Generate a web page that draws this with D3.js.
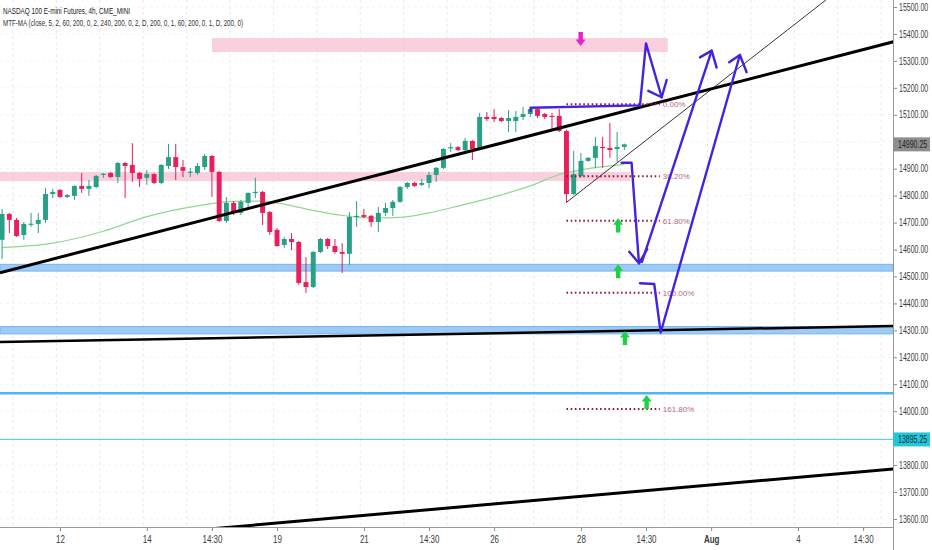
<!DOCTYPE html>
<html>
<head>
<meta charset="utf-8">
<script src="https://cdn.jsdelivr.net/npm/d3@7"></script>
<style>
body{margin:0;background:#fff;}
text{font-family:"Liberation Sans Narrow","Liberation Sans",Arial,sans-serif;}
</style>
</head>
<body>
<svg id="SVG_CONTAINER" width="932" height="550"></svg>
<script>
// 4h candles, one per bar index (6 bars a trading day)
const opens = [14636,14732,14710,14654,14694,14695,14710,14806,14821,14795,
  14799,14836,14825,14832,14879,14884,14869,14921,14914,14884,
  14866,14880,14847,14910,14943,14906,14888,14884,14906,14947,
  14888,14706,14773,14736,14773,14810,14814,14739,14673,14617,
  14639,14628,14479,14461,14591,14639,14613,14591,14584,14721,
  14728,14725,14702,14736,14754,14777,14832,14847,14840,14847,
  14877,14903,14977,14980,14969,15003,14973,15092,15092,15088,
  15077,15077,15092,15103,15121,15103,15096,15096,15040,14806,
  14873,14929,14940,14981,14977,14973,14981];
const highs = [14750,14736,14717,14702,14736,14736,14828,14825,14825,14806,
  14838,14884,14858,14877,14884,14888,14925,14925,14995,14888,
  14895,14884,14917,14992,14992,14932,14903,14921,14955,14951,
  14892,14795,14780,14784,14812,14866,14817,14743,14680,14647,
  14661,14632,14572,14595,14643,14643,14639,14624,14739,14780,
  14751,14728,14758,14773,14784,14836,14851,14851,14862,14888,
  14906,14977,14995,14984,15014,15006,15107,15110,15121,15092,
  15118,15114,15129,15125,15125,15107,15107,15121,15044,14966,
  14958,14943,15018,15018,15070,15036,14993];
const lows = [14565,14661,14647,14636,14684,14661,14699,14791,14791,14791,
  14784,14810,14799,14828,14866,14866,14847,14791,14851,14832,
  14840,14843,14843,14899,14858,14869,14869,14877,14895,14795,
  14702,14699,14728,14728,14754,14791,14691,14654,14610,14606,
  14598,14469,14439,14457,14587,14602,14584,14513,14543,14684,
  14717,14684,14665,14725,14725,14773,14825,14832,14836,14828,
  14851,14899,14962,14966,14962,14932,14969,15077,15073,15073,
  15036,15036,15081,15092,15088,15084,15044,15036,14773,14802,
  14866,14925,14903,14903,14940,14925,14969];
const closes = [14732,14710,14650,14695,14696,14710,14806,14814,14795,14802,
  14836,14825,14836,14873,14881,14869,14921,14910,14884,14862,
  14880,14847,14914,14943,14906,14892,14889,14910,14947,14888,
  14706,14773,14736,14777,14810,14814,14736,14665,14613,14639,
  14628,14476,14461,14591,14639,14613,14591,14584,14721,14725,
  14721,14702,14736,14754,14777,14832,14847,14836,14847,14877,
  14903,14973,14980,14969,15003,14973,15092,15084,15084,15077,
  15088,15092,15103,15121,15096,15092,15092,15040,14806,14880,
  14929,14940,14984,14977,14969,14981,14990.25];

// MTF-MA line read at a few bars
const maIdx = [0,7,14,20,27,32,36,38,43,47,51,55,59,63,69,73,77,81,86];
const maVal = [14607,14624,14668,14722,14762,14779,14780,14773,14745,14727,14717,14719,14736,14761,14803,14836,14878,14900,14916];

// time axis
const xTickIdx = [8,20,29,38,50,59,68,80,89,98,110,119];
const xTickLabels = ["12","14","14:30","19","21","14:30","26","28","14:30","Aug","4","14:30"];
// 15000 and 13900 are hidden under the price boxes
const yTicks = [13600,13700,13800,14000,14100,14200,14300,14400,14500,14600,14700,14800,14900,15100,15200,15300,15400,15500];
const gridTicks = d3.range(13600, 15501, 100);

// drawn levels
const blueZones = [[14520,14545],[14287,14314]];
const pinkZones = [{from:-0.3, to:86.8, lo:14854, hi:14888},{from:29, to:92, lo:15333, hi:15385}];
const lightBlueLevel = 14067;
const cyanLevel = 13895.25;
const trendLines = [
  {a:[-0.3,14514], b:[123.2,15371], w:3},
  {a:[-0.3,14257], b:[123.2,14316], w:2.5},
  {a:[28.7,13563], b:[123.2,13786], w:3},
  {a:[78,14775], b:[116,15571], w:0.8}
];
const fibHigh = 15139, fibLow = 14440, fibFrom = 78, fibTo = 90.9;
const fibLevels = [0, 0.382, 0.618, 1, 1.618];
const fibLabels = ["0.00%","38.20%","61.80%","100.00%","161.80%"];

const purplePaths = [
  [[73.05,15114],[73.05,15126],[88.16,15135],[88.99,15365],[91.16,15165]],
  [[89.31,15189],[91.16,15165],[91.85,15229]],
  [[85.63,14922],[87.0,14922],[88.02,14549]],
  [[86.68,14592],[88.02,14549],[89.16,14601]],
  [[88.43,14554],[98.07,15338]],
  [[96.45,15313],[98.07,15338],[98.75,15275]],
  [[88.16,14475],[90.13,14472],[91.02,14292],[101.97,15322]],
  [[100.49,15295],[101.97,15322],[102.9,15258]]
];
const greenArrows = [[85.14,14716,14663],[85.14,14545,14493],[86.08,14298,14246],[89.08,14060,14008]];
const magentaArrow = [79.96,15355,15407];

const PLOT = {RIGHT:893, BOTTOM:527};
const svg = d3.select("#SVG_CONTAINER");

const xScale = d3.scaleLinear().domain([-0.29, 123.13]).range([0, 893]);
const yScale = d3.scaleLinear().domain([13600, 15500]).range([519, 7]);
const barW = (xScale(1) - xScale(0)) * 0.68;

svg.append("defs").append("clipPath").attr("id","plotClip")
  .append("rect").attr("x",0).attr("y",0).attr("width",PLOT.RIGHT).attr("height",PLOT.BOTTOM);

svg.append("rect").attr("width",932).attr("height",550).attr("fill","#fff");
const plot = svg.append("g").attr("clip-path","url(#plotClip)");

// grid
plot.append("g").selectAll("line").data(d3.range(1.5, 123, 6)).enter().append("line")
  .attr("x1", d => xScale(d)).attr("x2", d => xScale(d))
  .attr("y1", 0).attr("y2", PLOT.BOTTOM)
  .attr("stroke","#e9e9ee").attr("stroke-dasharray","3,3");
plot.append("g").selectAll("line").data(gridTicks).enter().append("line")
  .attr("x1",0).attr("x2",PLOT.RIGHT)
  .attr("y1", d => yScale(d)).attr("y2", d => yScale(d))
  .attr("stroke","#f3f3f6").attr("stroke-dasharray","3,3");

// zones
plot.append("g").selectAll("rect").data(pinkZones).enter().append("rect")
  .attr("x", d => xScale(d.from)).attr("width", d => xScale(d.to) - xScale(d.from))
  .attr("y", d => yScale(d.hi)).attr("height", d => yScale(d.lo) - yScale(d.hi))
  .attr("fill","#f8bbd0").attr("opacity",0.7);
plot.append("g").selectAll("rect").data(blueZones).enter().append("rect")
  .attr("x",0).attr("width",PLOT.RIGHT)
  .attr("y", d => yScale(d[1])).attr("height", d => yScale(d[0]) - yScale(d[1]))
  .attr("fill","#8ec2f5").attr("stroke","#5ea7ee").attr("stroke-width",1).attr("opacity",0.85);

plot.append("line").attr("x1",0).attr("x2",PLOT.RIGHT)
  .attr("y1",yScale(lightBlueLevel)).attr("y2",yScale(lightBlueLevel))
  .attr("stroke","#4bb8ef").attr("stroke-width",2.5);
plot.append("line").attr("x1",0).attr("x2",PLOT.RIGHT)
  .attr("y1",yScale(cyanLevel)).attr("y2",yScale(cyanLevel))
  .attr("stroke","#4dd0e1").attr("stroke-width",1);

// moving average
plot.append("path")
  .datum(maIdx.map((d,i) => [d, maVal[i]]))
  .attr("d", d3.line().x(d => xScale(d[0])).y(d => yScale(d[1])).curve(d3.curveMonotoneX))
  .attr("fill","none").attr("stroke","#8fd88f").attr("stroke-width",1.2);

// candles
const candles = plot.append("g").selectAll("g").data(opens).enter().append("g");
const col = (d,i) => closes[i] >= opens[i] ? "#27a085" : "#e91e5a";
candles.append("line")
  .attr("x1",(d,i) => xScale(i)).attr("x2",(d,i) => xScale(i))
  .attr("y1",(d,i) => yScale(highs[i])).attr("y2",(d,i) => yScale(lows[i]))
  .attr("stroke",col).attr("stroke-width",1);
candles.append("rect")
  .attr("x",(d,i) => xScale(i) - barW/2).attr("width",barW)
  .attr("y",(d,i) => yScale(Math.max(opens[i],closes[i])))
  .attr("height",(d,i) => Math.max(1.2, Math.abs(yScale(opens[i]) - yScale(closes[i]))))
  .attr("fill",col);

// trend lines
plot.append("g").selectAll("line").data(trendLines).enter().append("line")
  .attr("x1",d => xScale(d.a[0])).attr("y1",d => yScale(d.a[1]))
  .attr("x2",d => xScale(d.b[0])).attr("y2",d => yScale(d.b[1]))
  .attr("stroke","#000").attr("stroke-width",d => d.w);

// fibonacci
const fibY = r => yScale(fibHigh - (fibHigh - fibLow) * r);
plot.append("g").selectAll("line").data(fibLevels).enter().append("line")
  .attr("x1",xScale(fibFrom)).attr("x2",xScale(fibTo))
  .attr("y1",fibY).attr("y2",fibY)
  .attr("stroke","#8e1b3d").attr("stroke-width",2).attr("stroke-dasharray","1.6,2.6");
plot.append("g").selectAll("text").data(fibLevels).enter().append("text")
  .attr("x",xScale(fibTo) + 3).attr("y",d => fibY(d) + 3)
  .attr("font-size","8px").attr("fill","#b36a86")
  .text((d,i) => fibLabels[i]);

// purple drawing
const line = d3.line().x(d => xScale(d[0])).y(d => yScale(d[1]));
plot.append("g").selectAll("path").data(purplePaths).enter().append("path")
  .attr("d", line).attr("fill","none").attr("stroke","#4422e2")
  .attr("stroke-width",2.4).attr("stroke-linecap","round").attr("stroke-linejoin","round");

// arrows
function arrow(cx, tip, base) {
  const dir = base > tip ? 1 : -1, h = 6.5 * dir;
  return "M" + [[cx,tip],[cx+5,tip+h],[cx+2.2,tip+h],[cx+2.2,base],[cx-2.2,base],[cx-2.2,tip+h],[cx-5,tip+h]].join("L") + "Z";
}
plot.append("g").selectAll("path").data(greenArrows).enter().append("path")
  .attr("d", d => arrow(xScale(d[0]), yScale(d[1]), yScale(d[2])))
  .attr("fill","#1fd04a");
plot.append("path")
  .attr("d", arrow(xScale(magentaArrow[0]), yScale(magentaArrow[1]), yScale(magentaArrow[2])))
  .attr("fill","#ea22c6");

// axes
// narrow the labels horizontally (the reference font is condensed)
const condense = function(k){
  return function(){
    const x = +this.getAttribute("x") || 0;
    this.setAttribute("x", x / k);
    this.setAttribute("transform", "scale(" + k + ",1)");
  };
};

svg.append("line").attr("x1",PLOT.RIGHT+0.5).attr("x2",PLOT.RIGHT+0.5).attr("y1",0).attr("y2",550).attr("stroke","#9a9a9a");
svg.append("line").attr("x1",0).attr("x2",PLOT.RIGHT).attr("y1",PLOT.BOTTOM+0.5).attr("y2",PLOT.BOTTOM+0.5).attr("stroke","#9a9a9a");

const yAxis = d3.axisRight(yScale).tickValues(yTicks).tickFormat(d3.format(".2f")).tickSize(3).tickPadding(2);
const yg = svg.append("g").attr("transform","translate(" + (PLOT.RIGHT+1) + ",0)").call(yAxis);
yg.select(".domain").remove();
yg.selectAll("line").attr("stroke","#8a8a8a");
yg.selectAll("text").attr("font-size","10px").attr("fill","#3a3a3a").style("font-family",null).each(condense(0.7));

const xAxis = d3.axisBottom(xScale).tickValues(xTickIdx).tickFormat((d,i) => xTickLabels[i]).tickSize(3).tickPadding(5);
const xg = svg.append("g").attr("transform","translate(0," + (PLOT.BOTTOM+1) + ")").call(xAxis);
xg.select(".domain").remove();
xg.selectAll("line").attr("stroke","#8a8a8a");
xg.selectAll("text").attr("font-size","10px").attr("fill","#3a3a3a").style("font-family",null)
  .attr("font-weight",(d,i) => xTickLabels[i] === "Aug" ? "bold" : null).each(condense(0.8));

// price labels
const priceBoxes = [{v:closes[closes.length-1], bg:"#8e8e8e", fg:"#1e1e1e"},{v:cyanLevel, bg:"#26c6da", fg:"#0c3038"}];
const pb = svg.append("g").selectAll("g").data(priceBoxes).enter().append("g");
pb.append("rect").attr("x",PLOT.RIGHT).attr("width",37).attr("y",d => yScale(d.v) - 7).attr("height",14).attr("fill",d => d.bg);
pb.append("text").attr("x",PLOT.RIGHT + 5).attr("y",d => yScale(d.v) + 3.5)
  .attr("font-size","10px").attr("fill",d => d.fg).text(d => d3.format(".2f")(d.v)).each(condense(0.7));

// title
svg.append("text").attr("x",3).attr("y",14).attr("font-size","8.5px").attr("fill","#222")
  .text("NASDAQ 100 E-mini Futures, 4h, CME_MINI").attr("textLength",127).attr("lengthAdjust","spacingAndGlyphs");
svg.append("text").attr("x",3).attr("y",26).attr("font-size","8.5px").attr("fill","#333")
  .text("MTF-MA (close, 5, 2, 60, 200, 0, 2, 240, 200, 0, 2, D, 200, 0, 1, 60, 200, 0, 1, D, 200, 0)")
  .attr("textLength",240).attr("lengthAdjust","spacingAndGlyphs");
</script>
</body>
</html>
